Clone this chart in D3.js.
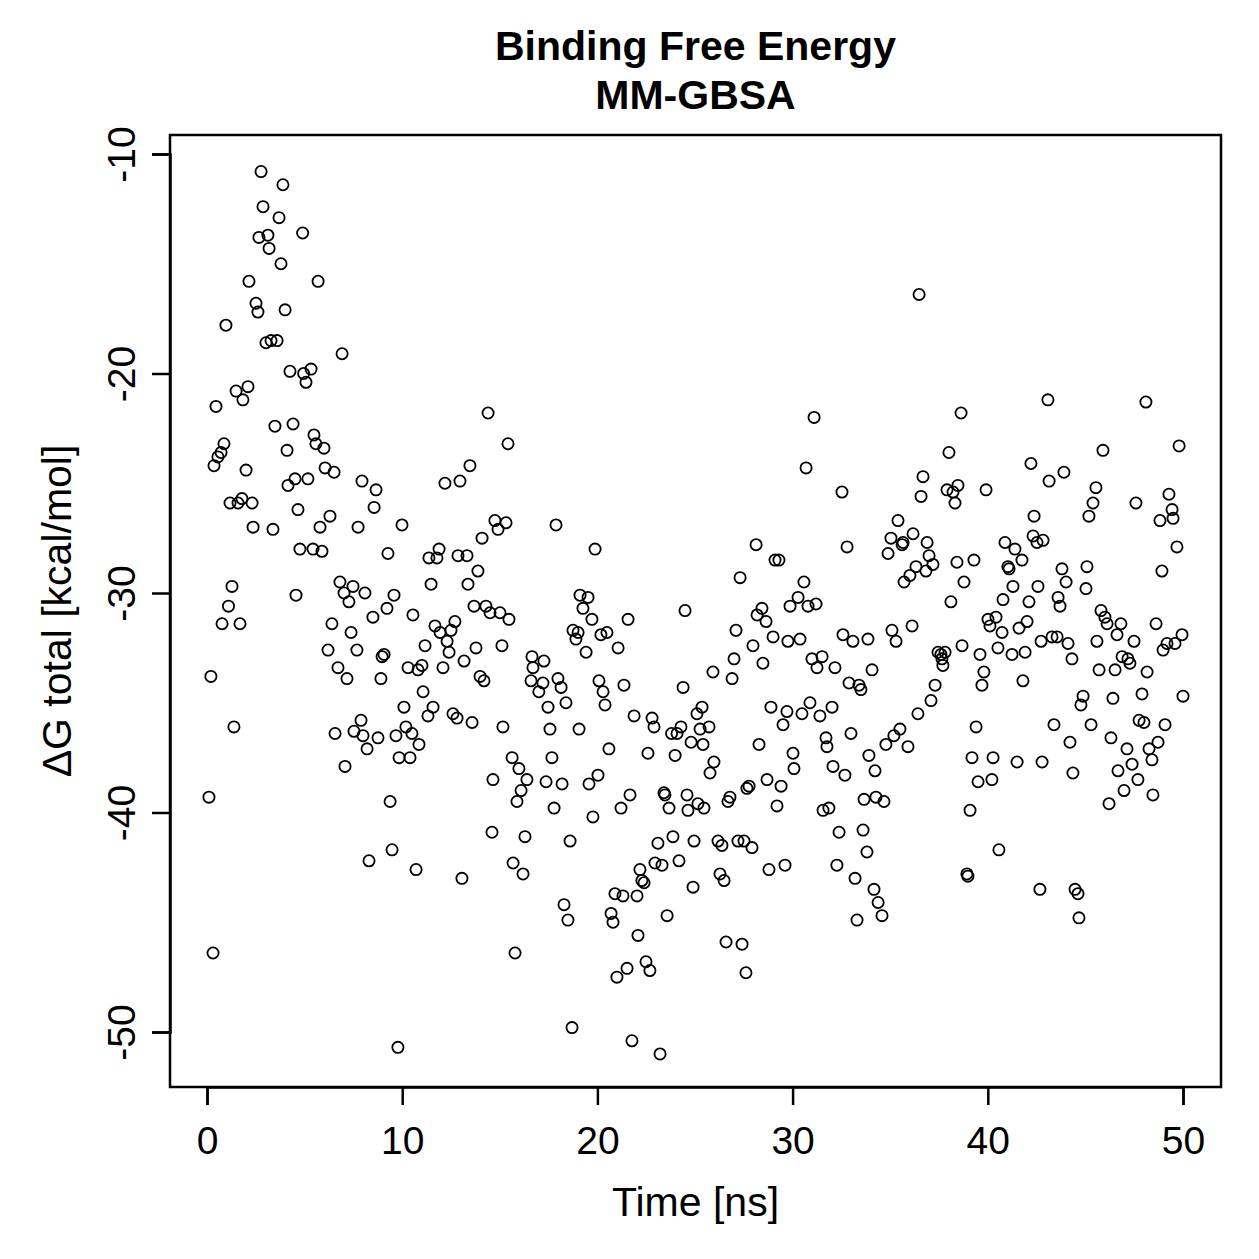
<!DOCTYPE html>
<html>
<head>
<meta charset="utf-8">
<script src="https://cdn.jsdelivr.net/npm/d3@7"></script>
<style>
html,body{margin:0;padding:0;background:#fff;}
svg{display:block;}
text{font-family:"Liberation Sans",Arial,Helvetica,sans-serif;fill:#000;}
</style>
</head>
<body>
<svg id="chart" width="1259" height="1259"></svg>
<script>
const titleLines = ["Binding Free Energy", "MM-GBSA"];
const xLabel = "Time [ns]";
const yLabel = "\u0394G total [kcal/mol]";
const xTicks = [0, 10, 20, 30, 40, 50];
const yTicks = [-10, -20, -30, -40, -50];

// Time [ns]
const time = [
0.10,0.20,0.31,0.36,0.46,0.56,0.72,0.77,0.87,0.97,1.10,1.18,1.28,1.38,1.49,1.59,1.69,1.79,1.84,2.00,
2.10,2.15,2.31,2.36,2.51,2.61,2.66,2.77,2.87,3.02,3.12,3.18,3.28,3.38,3.48,3.59,3.69,3.79,3.89,4.00,
4.10,4.15,4.25,4.41,4.51,4.56,4.66,4.76,4.90,4.95,
5.07,5.17,5.33,5.43,5.48,5.58,5.69,5.79,5.89,5.99,6.05,6.20,6.30,6.40,6.51,6.56,6.71,6.81,6.92,7.02,
7.07,7.17,7.27,7.38,7.48,7.53,7.68,7.74,7.89,7.94,7.99,8.09,8.20,8.30,8.50,8.56,8.66,8.76,8.91,8.97,
9.07,9.22,9.27,9.38,9.48,9.58,9.68,9.78,9.84,9.99,
10.09,10.19,10.30,10.40,10.50,10.55,10.71,10.81,10.86,11.01,11.07,11.17,11.32,11.37,11.48,11.58,11.68,11.78,11.89,11.94,
12.09,12.19,12.30,12.40,12.50,12.60,12.70,12.81,12.86,12.96,13.06,13.17,13.32,13.37,13.47,13.58,13.68,13.78,13.88,13.99,
14.09,14.19,14.29,14.40,14.50,14.60,14.65,14.75,14.91,15.01,
15.11,15.16,15.32,15.42,15.47,15.63,15.68,15.78,15.88,15.98,16.09,16.19,16.29,16.39,16.60,16.65,16.70,17.00,17.21,17.26,
17.37,17.47,17.57,17.67,17.78,17.88,17.98,18.14,18.19,18.29,18.39,18.49,18.60,18.70,18.75,18.90,19.01,19.06,19.11,19.26,
19.42,19.52,19.57,19.72,19.77,19.88,
20.03,20.08,20.18,20.29,20.39,20.49,20.59,20.70,20.80,20.90,21.00,21.06,21.21,21.31,21.36,21.52,21.57,21.67,21.77,21.88,
22.03,22.08,22.18,22.28,22.39,22.49,22.59,22.69,22.80,22.90,22.95,23.10,23.21,23.31,23.41,23.46,23.57,23.67,23.80,23.87,
23.98,24.08,24.18,24.28,24.39,24.49,24.59,24.64,24.80,24.90,24.95,
25.10,25.15,25.26,25.36,25.41,25.46,25.72,25.77,25.92,25.97,26.18,26.28,26.38,26.49,26.59,26.69,26.79,26.90,27.00,27.10,
27.20,27.31,27.41,27.51,27.61,27.66,27.77,27.92,27.97,28.13,28.18,28.28,28.43,28.48,28.64,28.69,28.79,28.89,29.00,29.10,
29.20,29.30,29.41,29.51,29.61,29.71,29.76,29.87,30.02,
30.07,30.28,30.38,30.48,30.58,30.69,30.79,30.89,30.99,31.10,31.20,31.25,31.40,31.51,31.56,31.71,31.76,31.86,32.02,32.07,
32.17,32.27,32.38,32.53,32.58,32.68,32.79,32.89,32.99,33.09,33.20,33.30,33.40,33.50,33.61,33.66,33.81,33.86,33.91,34.07,
34.17,34.22,34.27,34.38,34.58,34.68,34.78,34.89,35.04,
35.09,35.19,35.30,35.40,35.50,35.61,35.66,35.71,35.91,36.01,36.12,36.17,36.32,36.42,36.48,36.58,36.68,36.83,36.89,36.99,
37.09,37.19,37.30,37.45,37.60,37.65,37.70,37.81,37.91,38.01,38.11,38.22,38.32,38.42,38.47,38.63,38.68,38.78,38.93,38.98,
39.09,39.19,39.29,39.40,39.50,39.60,39.70,39.80,39.91,
40.01,40.11,40.21,40.27,40.42,40.52,40.57,40.73,40.78,40.88,41.03,41.09,41.24,41.29,41.39,41.50,41.60,41.75,41.80,41.91,
42.01,42.11,42.21,42.32,42.37,42.52,42.57,42.67,42.73,42.78,42.83,43.08,43.14,43.29,43.39,43.55,43.60,43.70,43.80,43.90,
44.01,44.11,44.21,44.31,44.36,44.47,44.62,44.67,44.77,44.88,
45.03,45.08,45.18,45.29,45.39,45.54,45.59,45.70,45.80,45.90,46.00,46.11,46.21,46.31,46.41,46.52,46.62,46.67,46.82,46.88,
46.98,47.13,47.18,47.28,47.39,47.49,47.59,47.69,47.75,47.90,48.00,48.10,48.16,48.26,48.41,48.46,48.62,48.72,48.82,48.92,
48.98,49.08,49.18,49.28,49.44,49.49,49.59,49.69,49.80,49.95,50.00
];

// Delta G total [kcal/mol]
const dG = [
-39.3,-33.8,-46.4,-24.2,-21.5,-23.8,-23.6,-31.4,-23.2,-17.8,-30.6,-25.9,-29.7,-36.1,-20.8,-25.9,-31.4,-25.7,-21.2,-24.4,
-20.6,-15.8,-25.9,-27.0,-16.8,-17.2,-13.8,-10.8,-12.4,-18.6,-13.7,-14.3,-18.5,-27.1,-22.4,-18.5,-12.9,-15.0,-11.4,-17.1,
-23.5,-25.1,-19.9,-22.3,-24.8,-30.1,-26.2,-28.0,-13.6,-20.0,
-20.4,-24.8,-19.8,-28.0,-22.8,-23.2,-15.8,-27.0,-28.1,-23.4,-24.3,-32.6,-26.5,-31.4,-24.5,-36.4,-33.4,-29.5,-19.1,-30.0,
-37.9,-33.9,-30.4,-31.8,-29.7,-36.3,-32.6,-27.0,-35.8,-24.9,-36.5,-30.0,-37.1,-42.2,-31.1,-26.1,-25.3,-36.6,-33.9,-32.9,
-32.8,-30.7,-28.2,-39.5,-41.7,-30.1,-36.5,-50.7,-37.5,-26.9,
-35.2,-36.1,-33.4,-37.5,-36.4,-31.0,-42.6,-33.5,-36.9,-33.3,-34.5,-32.4,-35.6,-28.4,-29.6,-35.2,-31.5,-28.4,-28.0,-31.8,
-33.4,-25.0,-32.2,-32.7,-31.7,-35.5,-31.3,-35.7,-28.3,-24.9,-43.0,-33.1,-28.3,-29.6,-24.2,-35.9,-30.6,-32.5,-29.0,-33.8,
-27.5,-34.0,-30.6,-21.8,-30.9,-40.9,-38.5,-26.7,-27.1,-30.9,
-32.4,-36.1,-26.8,-23.2,-31.2,-37.5,-42.3,-46.4,-39.5,-38.0,-39.0,-42.8,-41.1,-38.5,-34.0,-32.9,-33.4,-34.5,-34.1,-33.1,
-38.6,-35.2,-36.2,-37.5,-39.8,-26.9,-33.9,-34.3,-38.7,-44.2,-35.0,-44.9,-41.3,-49.8,-31.7,-32.1,-31.8,-36.2,-30.1,-30.7,
-32.7,-30.2,-38.7,-31.2,-40.2,-28.0,
-38.3,-34.0,-31.9,-34.5,-35.1,-31.8,-37.1,-44.6,-45.0,-43.7,-47.5,-32.5,-39.8,-43.8,-34.2,-47.1,-31.2,-39.2,-50.4,-35.6,
-43.8,-45.6,-42.6,-43.1,-43.2,-46.8,-37.3,-47.2,-35.7,-36.1,-42.3,-41.4,-51.0,-42.4,-39.1,-39.2,-44.7,-39.8,-36.4,-41.1,
-37.4,-36.4,-42.2,-36.1,-34.3,-30.8,-39.2,-39.9,-36.8,-43.4,-41.3,
-35.5,-39.6,-36.2,-35.2,-36.9,-39.8,-36.1,-38.2,-33.6,-37.7,-41.3,-42.8,-41.5,-43.1,-45.9,-39.5,-39.3,-33.9,-33.0,-31.7,
-41.3,-29.3,-46.0,-41.3,-47.3,-38.9,-38.8,-41.6,-32.4,-27.8,-31.0,-36.9,-30.7,-33.2,-31.3,-38.5,-42.6,-35.2,-32.0,-28.5,
-39.7,-28.5,-38.8,-36.0,-42.4,-35.4,-32.2,-30.6,-37.3,
-38.0,-30.2,-32.1,-35.5,-29.5,-24.3,-30.6,-35.0,-33.0,-22.0,-30.5,-33.4,-35.6,-32.9,-39.9,-36.6,-37.0,-39.8,-35.2,-37.9,
-33.4,-42.4,-40.9,-25.4,-31.9,-38.3,-27.9,-34.1,-36.4,-32.2,-43.0,-44.9,-34.2,-34.4,-40.8,-39.4,-41.8,-32.1,-37.4,-33.5,
-43.5,-38.1,-39.3,-44.1,-44.7,-39.5,-36.9,-28.2,-27.5,
-31.7,-36.5,-32.2,-26.7,-36.2,-27.8,-27.7,-29.5,-37.0,-29.2,-31.5,-27.3,-28.8,-35.5,-16.4,-25.6,-24.7,-29.0,-27.7,-28.3,
-34.9,-28.7,-34.2,-32.7,-32.8,-33.0,-33.3,-32.7,-25.3,-23.6,-30.4,-25.4,-25.9,-28.6,-25.1,-21.8,-32.4,-29.5,-42.8,-42.9,
-39.9,-37.5,-28.5,-36.1,-38.6,-32.8,-34.2,-33.6,-25.3,
-31.2,-31.5,-38.5,-37.5,-31.1,-32.5,-41.7,-31.8,-30.3,-27.7,-28.8,-28.9,-32.8,-29.7,-28.0,-37.7,-31.6,-28.5,-34.0,-32.7,
-31.3,-30.4,-24.1,-27.4,-26.5,-27.7,-29.7,-43.5,-32.2,-37.7,-27.6,-21.2,-24.9,-32.0,-36.0,-32.0,-30.2,-30.6,-28.9,-24.5,
-29.5,-32.3,-36.8,-33.0,-38.2,-43.5,-43.7,-44.8,-35.1,-34.7,
-29.8,-28.8,-26.5,-36.0,-25.9,-25.2,-32.2,-33.5,-30.8,-23.5,-31.1,-31.4,-39.6,-36.6,-34.8,-33.5,-31.9,-38.1,-31.4,-32.9,
-39.0,-37.1,-33.0,-33.2,-37.8,-32.2,-25.9,-38.5,-35.8,-34.6,-35.9,-21.3,-33.6,-37.1,-37.6,-39.2,-31.4,-36.8,-26.7,-29.0,
-32.6,-36.0,-32.3,-25.5,-26.2,-26.6,-32.3,-27.9,-23.3,-31.9,-34.7
];

const svg = d3.select("#chart");
const box = {left: 170, top: 135, right: 1221, bottom: 1087};

const x = d3.scaleLinear().domain([0, 50]).range([207, 1183]);
const y = d3.scaleLinear().domain([-10, -50]).range([154, 1032]);

const n = Math.min(time.length, dG.length);
const pts = d3.range(n).map(i => ({t: time[i], v: dG[i]}));

// points
svg.append("g").selectAll("circle").data(pts).join("circle")
  .attr("cx", d => x(d.t)).attr("cy", d => y(d.v)).attr("r", 5.6)
  .attr("fill", "none").attr("stroke", "#000").attr("stroke-width", 1.8);

// box
svg.append("rect").attr("x", box.left).attr("y", box.top)
  .attr("width", box.right - box.left).attr("height", box.bottom - box.top)
  .attr("fill", "none").attr("stroke", "#000").attr("stroke-width", 2.5);

const tickFont = 39;
const labelFont = 41;

// x axis
const xAxis = d3.axisBottom(x).tickValues(xTicks).tickSize(18).tickFormat(d3.format("d"));
const gx = svg.append("g").attr("transform", `translate(0,${box.bottom})`).call(xAxis);
gx.select(".domain").attr("stroke-width", 2.5);
gx.selectAll(".tick line").attr("stroke-width", 2.5);
gx.selectAll(".tick text").attr("font-size", tickFont).attr("font-family", "Liberation Sans, Arial, sans-serif")
  .attr("fill", "#000").attr("y", 67).attr("dy", null);

// y axis
const yAxis = d3.axisLeft(y).tickValues(yTicks).tickSize(18).tickPadding(0).tickFormat(d => d3.format("d")(d).replace("\u2212", "-"));
const gy = svg.append("g").attr("transform", `translate(${box.left},0)`).call(yAxis);
gy.select(".domain").attr("stroke-width", 2.5);
gy.selectAll(".tick line").attr("stroke-width", 2.5);
gy.selectAll(".tick text")
  .attr("font-size", tickFont).attr("font-family", "Liberation Sans, Arial, sans-serif").attr("fill", "#000")
  .attr("x", null).attr("dy", null)
  .attr("text-anchor", "middle")
  .attr("transform", "translate(-35,0) rotate(-90)");

// axis titles
svg.append("text").attr("x", (box.left + box.right) / 2).attr("y", 1216)
  .attr("text-anchor", "middle").attr("font-size", labelFont).text(xLabel);
svg.append("text").attr("transform", `translate(71,${(box.top + box.bottom) / 2}) rotate(-90)`)
  .attr("text-anchor", "middle").attr("font-size", labelFont).text(yLabel);

// title
svg.selectAll(".title").data(titleLines).join("text").attr("class", "title")
  .attr("x", (box.left + box.right) / 2).attr("y", (d, i) => 60 + i * 49)
  .attr("text-anchor", "middle").attr("font-size", 41).attr("font-weight", "bold")
  .text(d => d);
</script>
</body>
</html>
